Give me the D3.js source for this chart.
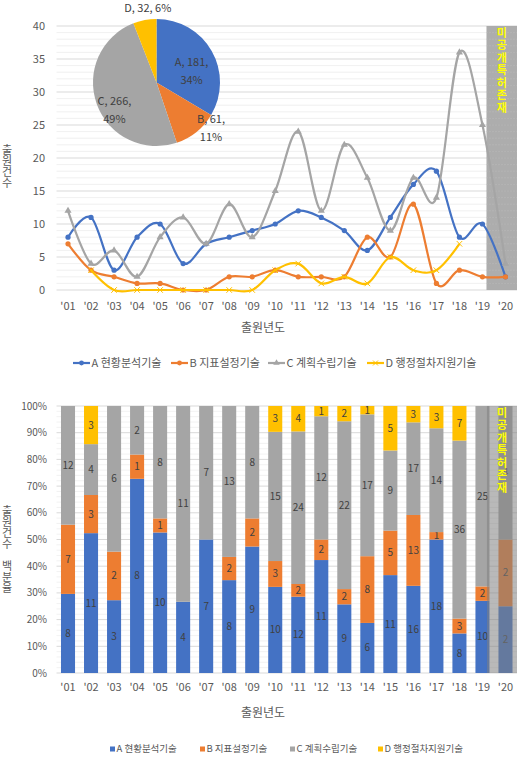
<!DOCTYPE html>
<html><head><meta charset="utf-8">
<script src="https://cdn.jsdelivr.net/npm/d3@7"></script>
<style>
html,body{margin:0;padding:0;background:#fff;}
svg text{font-family:"Noto Sans CJK KR","Noto Sans",sans-serif;}
.vert{writing-mode:vertical-rl;text-orientation:upright;}
</style></head>
<body><svg id="c" width="526" height="759"></svg>
<script>
// ---------- data ----------
const years = ["'01","'02","'03","'04","'05","'06","'07","'08","'09","'10","'11","'12","'13","'14","'15","'16","'17","'18","'19","'20"];
const seriesNames = ["A 현황분석기술","B 지표설정기술","C 계획수립기술","D 행정절차지원기술"];
const seriesA = [8,11,3,8,10,4,7,8,9,10,12,11,9,6,11,16,18,8,10,2];
const seriesB = [7,3,2,1,1,0,0,2,2,3,2,2,2,8,5,13,1,3,2,2];
const seriesC = [12,4,6,2,8,11,7,13,8,15,24,12,22,17,9,17,14,36,25,4];
const seriesD = [null,3,0,0,0,0,0,0,0,3,4,1,2,1,5,3,3,7,null,null];
const pieKeys = ["A","B","C","D"];
const pieTotals = [181,61,266,32];
const yTicksTop = [0,5,10,15,20,25,30,35,40];
const yTicksBottom = [0,0.1,0.2,0.3,0.4,0.5,0.6,0.7,0.8,0.9,1];
const overlayText = "미공개특허존재";
const xTitle = "출원년도";
const yTitleTop = "출원건수";
const yTitleBottom = "출원건수 백분율";
const colors = ["#4472C4","#ED7D31","#A5A5A5","#FFC000"];

const svg = d3.select("#c");
const textCol = "#595959";
const allSeries = [seriesA, seriesB, seriesC, seriesD];

// ---------- top line chart ----------
const plotL = 56.5, plotR = 517;
const xp = d3.scalePoint().domain(years).range([plotL, plotR]).padding(0.5);
const yT = d3.scaleLinear().domain([0,40]).range([290,26]);
const gTop = svg.append("g");

gTop.append("g").selectAll("line").data(d3.range(0,41,1).filter(v=>v%5!==0)).join("line")
  .attr("x1",plotL).attr("x2",plotR).attr("y1",d=>yT(d)).attr("y2",d=>yT(d))
  .attr("stroke","#ececec").attr("stroke-width",0.8);
gTop.append("g").selectAll("line").data(yTicksTop).join("line")
  .attr("x1",plotL).attr("x2",plotR).attr("y1",d=>yT(d)).attr("y2",d=>yT(d))
  .attr("stroke","#d9d9d9").attr("stroke-width",1);

const ovX0 = xp("'20") - 19;
gTop.append("rect").attr("x",ovX0).attr("y",yT(40)).attr("width",plotR-ovX0).attr("height",yT(0)-yT(40))
  .attr("fill","#a6a6a6").attr("opacity",0.92);
gTop.append("g").selectAll("line").data(d3.range(1,40,1)).join("line")
  .attr("x1",ovX0).attr("x2",plotR).attr("y1",d=>yT(d)).attr("y2",d=>yT(d))
  .attr("stroke","#c8c8c8").attr("stroke-width",0.6).attr("stroke-dasharray","1,2");

gTop.append("g").selectAll("text").data(yTicksTop).join("text")
  .attr("x",45).attr("y",d=>yT(d)).attr("dy","0.35em").attr("text-anchor","end")
  .attr("font-size",11).attr("fill",textCol).text(d=>d);
gTop.append("g").selectAll("text").data(years).join("text")
  .attr("x",d=>xp(d)).attr("y",306).attr("dy","0.35em").attr("text-anchor","middle")
  .attr("font-size",11).attr("fill",textCol).text(d=>d);
gTop.append("text").attr("x",263).attr("y",328).attr("dy","0.35em").attr("text-anchor","middle")
  .attr("font-size",12).attr("fill",textCol).text(xTitle);
gTop.append("text").attr("class","vert").attr("x",7).attr("y",166).attr("text-anchor","middle")
  .attr("font-size",11).attr("fill",textCol).text(yTitleTop);

const line = d3.line().defined(d=>d.v!==null).x(d=>xp(d.y)).y(d=>yT(d.v)).curve(d3.curveCardinal.tension(0));
allSeries.forEach((s,i)=>{
  const pts = years.map((y,j)=>({y, v:s[j]}));
  gTop.append("path").attr("d",line(pts)).attr("fill","none").attr("stroke",colors[i]).attr("stroke-width",2.2);
  const g = gTop.append("g");
  const valid = pts.filter(d=>d.v!==null);
  if(i===0||i===1){
    g.selectAll("circle").data(valid).join("circle").attr("cx",d=>xp(d.y)).attr("cy",d=>yT(d.v)).attr("r",2.6).attr("fill",colors[i]);
  } else if(i===2){
    g.selectAll("path").data(valid).join("path").attr("d",d3.symbol(d3.symbolTriangle,22))
      .attr("transform",d=>`translate(${xp(d.y)},${yT(d.v)})`).attr("fill",colors[i]);
  } else {
    g.selectAll("path").data(valid).join("path").attr("d",d3.symbol(d3.symbolX,22))
      .attr("transform",d=>`translate(${xp(d.y)},${yT(d.v)})`).attr("fill","none").attr("stroke",colors[i]).attr("stroke-width",1);
  }
});

gTop.append("text").attr("class","vert").attr("x",(ovX0+plotR)/2).attr("y",71).attr("text-anchor","middle")
  .attr("font-size",11).attr("font-weight","bold").attr("letter-spacing",1.5).attr("fill","#FFFF00").text(overlayText);

const legTopX = [73,171,268,367];
seriesNames.forEach((n,i)=>{
  const g = gTop.append("g").attr("transform",`translate(${legTopX[i]},363)`);
  g.append("line").attr("x1",0).attr("x2",17).attr("stroke",colors[i]).attr("stroke-width",2.2);
  if(i<2) g.append("circle").attr("cx",8.5).attr("r",2.4).attr("fill",colors[i]);
  else if(i===2) g.append("path").attr("d",d3.symbol(d3.symbolTriangle,18)).attr("transform","translate(8.5,0)").attr("fill",colors[i]);
  else g.append("path").attr("d",d3.symbol(d3.symbolX,18)).attr("transform","translate(8.5,0)").attr("stroke",colors[i]).attr("fill","none");
  g.append("text").attr("x",18.5).attr("dy","0.35em").attr("font-size",11).attr("fill",textCol).text(n);
});

const pcx = 156.5, pcy = 82.5, pr = 63.5;
const pieData = d3.pie().sort(null).value(d=>d.v)(pieKeys.map((k,i)=>({k, v:pieTotals[i]})));
const arc = d3.arc().innerRadius(0).outerRadius(pr);
const pg = gTop.append("g").attr("transform",`translate(${pcx},${pcy})`);
pg.selectAll("path").data(pieData).join("path").attr("d",arc).attr("fill",(d,i)=>colors[i]);
const grand = d3.sum(pieTotals);
const pieLabelLayout = {A:[0.58,12,false],B:[1.12,-11,false],C:[0.79,-13,false],D:[1.18,4,true]};
pieData.forEach(d=>{
  const [rf,sh,single] = pieLabelLayout[d.data.k];
  const a = (d.startAngle+d.endAngle)/2 + sh*Math.PI/180;
  const lx = Math.sin(a)*pr*rf, ly = -Math.cos(a)*pr*rf;
  const pct = Math.round(d.data.v/grand*100)+"%";
  const t = pg.append("text").attr("text-anchor","middle").attr("font-size",11).attr("fill","#404040");
  if(single){
    t.attr("x",lx).attr("y",ly).attr("dy","0.35em").text(`${d.data.k}, ${d.data.v}, ${pct}`);
  } else {
    t.append("tspan").attr("x",lx).attr("y",ly-9).attr("dy","0.35em").text(`${d.data.k}, ${d.data.v},`);
    t.append("tspan").attr("x",lx).attr("y",ly+9).attr("dy","0.35em").text(pct);
  }
});

// ---------- bottom stacked 100% chart ----------
const bot = svg.append("g");
const xb = d3.scaleBand().domain(years).range([plotL, plotR]).paddingInner(0.39).paddingOuter(0.195);
const yB = d3.scaleLinear().domain([0,1]).range([673,406]);
bot.append("g").selectAll("line").data(d3.range(0,101,2).filter(v=>v%10!==0)).join("line")
  .attr("x1",plotL).attr("x2",plotR).attr("y1",d=>yB(d/100)).attr("y2",d=>yB(d/100))
  .attr("stroke","#efefef").attr("stroke-width",0.8);
bot.append("g").selectAll("line").data(yTicksBottom).join("line")
  .attr("x1",plotL).attr("x2",plotR).attr("y1",d=>yB(d)).attr("y2",d=>yB(d))
  .attr("stroke","#d9d9d9").attr("stroke-width",1);
bot.append("g").selectAll("text").data(yTicksBottom).join("text")
  .attr("x",47).attr("y",d=>yB(d)).attr("dy","0.35em").attr("text-anchor","end")
  .attr("font-size",10).attr("fill",textCol).text(d=>Math.round(d*100)+"%");
bot.append("g").selectAll("text").data(years).join("text")
  .attr("x",d=>xb(d)+xb.bandwidth()/2).attr("y",687).attr("dy","0.35em").attr("text-anchor","middle")
  .attr("font-size",11).attr("fill",textCol).text(d=>d);
bot.append("text").attr("x",263).attr("y",713).attr("dy","0.35em").attr("text-anchor","middle")
  .attr("font-size",12).attr("fill",textCol).text(xTitle);
bot.append("text").attr("class","vert").attr("x",7).attr("y",549).attr("text-anchor","middle")
  .attr("font-size",11).attr("fill",textCol).text(yTitleBottom);

const rows = years.map((y,j)=>{
  const o = {year:y};
  pieKeys.forEach((k,i)=>o[k]=allSeries[i][j]||0);
  o.total = d3.sum(pieKeys,k=>o[k]);
  return o;
});
const stack = d3.stack().keys(pieKeys).value((d,k)=>d[k]/d.total)(rows);
stack.forEach((layer,i)=>{
  const g = bot.append("g");
  g.selectAll("rect").data(layer).join("rect")
    .attr("x",d=>xb(d.data.year)).attr("width",xb.bandwidth())
    .attr("y",d=>yB(d[1])).attr("height",d=>yB(d[0])-yB(d[1])).attr("fill",colors[i]);
  g.selectAll("text").data(layer.filter(d=>d.data[pieKeys[i]]>0)).join("text")
    .attr("x",d=>xb(d.data.year)+xb.bandwidth()/2).attr("y",d=>yB((d[0]+d[1])/2)).attr("dy","0.35em")
    .attr("text-anchor","middle").attr("font-size",10).attr("fill","#404040").text(d=>d.data[pieKeys[i]]);
});
const ovX0b = xb("'20") - 11.5;
bot.append("rect").attr("x",ovX0b).attr("y",yB(1)).attr("width",plotR-ovX0b).attr("height",yB(0)-yB(1))
  .attr("fill","#7f7f7f").attr("opacity",0.55);
bot.append("text").attr("class","vert").attr("x",(ovX0b+plotR)/2).attr("y",451).attr("text-anchor","middle")
  .attr("font-size",11).attr("font-weight","bold").attr("letter-spacing",1.5).attr("fill","#FFFF00").text(overlayText);

const legBotX = [110,200,290,378];
seriesNames.forEach((n,i)=>{
  const g = bot.append("g").attr("transform",`translate(${legBotX[i]},749)`);
  g.append("rect").attr("x",0).attr("y",-2.5).attr("width",5).attr("height",5).attr("fill",colors[i]);
  g.append("text").attr("x",6.5).attr("dy","0.35em").attr("font-size",9.5).attr("fill",textCol).text(n);
});
</script></body></html>
